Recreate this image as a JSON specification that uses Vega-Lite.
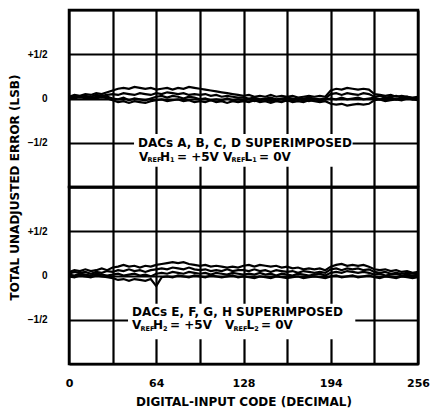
{
  "$schema": "https://vega.github.io/schema/vega-lite/v6.json",
  "padding": {"left": 7, "top": 8, "right": 2, "bottom": 2},
  "background": "white",
  "bounds": "flush",
  "spacing": 0,
  "config": {
    "view": {"stroke": "#000", "strokeWidth": 2.5},
    "axis": {"grid": true, "gridColor": "#000", "gridWidth": 2.2, "gridOpacity": 1, "domain": false, "ticks": false,
      "labelFont": "DejaVu Sans", "labelFontWeight": "bold", "labelColor": "#000", "labelFontSize": 11,
      "titleFont": "DejaVu Sans", "titleFontWeight": "bold", "titleFontSize": 12, "titleColor": "#000"},
    "axisY": {"labelFont": "Liberation Sans", "labelFontSize": 10}
  },
  "datasets": {
    "box": [
      {"p": "T", "x": 47.7, "x2": 208, "y": -0.40, "y2": -0.77},
      {"p": "B", "x": 43.3, "x2": 210, "y": -0.32, "y2": -0.72}
    ],
    "ann": [
      {"p": "T", "k": "m", "x": 50.6, "y": -0.5, "t": "DACs A, B, C, D SUPERIMPOSED"},
      {"p": "T", "k": "m", "x": 51.3, "y": -0.66, "t": "V"},
      {"p": "T", "k": "s", "x": 57.6, "y": -0.70, "t": "REF"},
      {"p": "T", "k": "m", "x": 66.8, "y": -0.66, "t": "H"},
      {"p": "T", "k": "s", "x": 74.1, "y": -0.70, "t": "1"},
      {"p": "T", "k": "m", "x": 79.2, "y": -0.66, "t": "= +5V"},
      {"p": "T", "k": "m", "x": 113.0, "y": -0.66, "t": "V"},
      {"p": "T", "k": "s", "x": 119.2, "y": -0.70, "t": "REF"},
      {"p": "T", "k": "m", "x": 128.7, "y": -0.66, "t": "L"},
      {"p": "T", "k": "s", "x": 134.5, "y": -0.70, "t": "1"},
      {"p": "T", "k": "m", "x": 139.4, "y": -0.66, "t": "= 0V"},
      {"p": "B", "k": "m", "x": 46.2, "y": -0.41, "t": "DACs E, F, G, H SUPERIMPOSED"},
      {"p": "B", "k": "m", "x": 46.2, "y": -0.56, "t": "V"},
      {"p": "B", "k": "s", "x": 52.4, "y": -0.60, "t": "REF"},
      {"p": "B", "k": "m", "x": 61.6, "y": -0.56, "t": "H"},
      {"p": "B", "k": "s", "x": 68.9, "y": -0.60, "t": "2"},
      {"p": "B", "k": "m", "x": 74.1, "y": -0.56, "t": "= +5V"},
      {"p": "B", "k": "m", "x": 114.4, "y": -0.56, "t": "V"},
      {"p": "B", "k": "s", "x": 120.7, "y": -0.60, "t": "REF"},
      {"p": "B", "k": "m", "x": 130.2, "y": -0.56, "t": "L"},
      {"p": "B", "k": "s", "x": 135.9, "y": -0.60, "t": "2"},
      {"p": "B", "k": "m", "x": 140.8, "y": -0.56, "t": "= 0V"}
    ],
    "top": [
      {"x": 0, "A": 0.02, "B": 0.01, "C": 0.00, "D": 0.01},
      {"x": 4, "A": 0.04, "B": 0.03, "C": 0.02, "D": 0.00},
      {"x": 8, "A": 0.03, "B": 0.02, "C": 0.01, "D": 0.02},
      {"x": 12, "A": 0.05, "B": 0.03, "C": 0.02, "D": 0.00},
      {"x": 16, "A": 0.04, "B": 0.02, "C": 0.00, "D": 0.01},
      {"x": 20, "A": 0.06, "B": 0.04, "C": 0.02, "D": 0.00},
      {"x": 24, "A": 0.05, "B": 0.03, "C": 0.01, "D": 0.02},
      {"x": 28, "A": 0.07, "B": 0.04, "C": 0.02, "D": 0.00},
      {"x": 32, "A": 0.09, "B": 0.05, "C": 0.00, "D": -0.02},
      {"x": 36, "A": 0.11, "B": 0.04, "C": -0.01, "D": -0.04},
      {"x": 40, "A": 0.12, "B": 0.06, "C": 0.01, "D": -0.03},
      {"x": 44, "A": 0.11, "B": 0.05, "C": -0.02, "D": -0.05},
      {"x": 48, "A": 0.13, "B": 0.04, "C": 0.00, "D": -0.03},
      {"x": 52, "A": 0.12, "B": 0.06, "C": -0.01, "D": -0.04},
      {"x": 56, "A": 0.11, "B": 0.05, "C": -0.02, "D": -0.05},
      {"x": 60, "A": 0.12, "B": 0.04, "C": 0.00, "D": -0.03},
      {"x": 64, "A": 0.10, "B": 0.06, "C": 0.02, "D": -0.02},
      {"x": 68, "A": 0.11, "B": 0.05, "C": 0.03, "D": -0.01},
      {"x": 72, "A": 0.12, "B": 0.07, "C": 0.01, "D": -0.03},
      {"x": 76, "A": 0.10, "B": 0.06, "C": 0.03, "D": -0.02},
      {"x": 80, "A": 0.12, "B": 0.05, "C": 0.02, "D": -0.01},
      {"x": 84, "A": 0.11, "B": 0.06, "C": 0.00, "D": -0.03},
      {"x": 88, "A": 0.13, "B": 0.04, "C": 0.02, "D": -0.02},
      {"x": 92, "A": 0.12, "B": 0.05, "C": 0.01, "D": -0.04},
      {"x": 96, "A": 0.11, "B": 0.04, "C": -0.01, "D": -0.03},
      {"x": 100, "A": 0.10, "B": 0.05, "C": 0.00, "D": -0.04},
      {"x": 104, "A": 0.09, "B": 0.03, "C": -0.02, "D": -0.02},
      {"x": 108, "A": 0.08, "B": 0.04, "C": -0.01, "D": -0.04},
      {"x": 112, "A": 0.07, "B": 0.02, "C": -0.02, "D": -0.03},
      {"x": 116, "A": 0.06, "B": 0.03, "C": 0.00, "D": -0.05},
      {"x": 120, "A": 0.05, "B": 0.02, "C": -0.02, "D": -0.03},
      {"x": 124, "A": 0.04, "B": 0.01, "C": -0.01, "D": -0.04},
      {"x": 128, "A": 0.03, "B": 0.01, "C": -0.02, "D": -0.03},
      {"x": 132, "A": 0.04, "B": 0.00, "C": -0.01, "D": -0.04},
      {"x": 136, "A": 0.02, "B": 0.01, "C": -0.03, "D": -0.02},
      {"x": 140, "A": 0.03, "B": -0.01, "C": -0.02, "D": -0.04},
      {"x": 144, "A": 0.02, "B": 0.00, "C": -0.01, "D": -0.03},
      {"x": 148, "A": 0.04, "B": 0.01, "C": -0.03, "D": -0.05},
      {"x": 152, "A": 0.02, "B": -0.01, "C": -0.02, "D": -0.03},
      {"x": 156, "A": 0.03, "B": 0.00, "C": -0.01, "D": -0.04},
      {"x": 160, "A": 0.02, "B": 0.01, "C": -0.03, "D": -0.02},
      {"x": 164, "A": 0.03, "B": 0.00, "C": -0.02, "D": -0.04},
      {"x": 168, "A": 0.01, "B": -0.01, "C": -0.01, "D": -0.03},
      {"x": 172, "A": 0.02, "B": 0.00, "C": -0.02, "D": -0.04},
      {"x": 176, "A": 0.03, "B": 0.01, "C": -0.03, "D": -0.02},
      {"x": 180, "A": 0.02, "B": 0.00, "C": -0.01, "D": -0.03},
      {"x": 184, "A": 0.03, "B": -0.01, "C": -0.02, "D": -0.04},
      {"x": 188, "A": 0.02, "B": 0.00, "C": -0.01, "D": -0.03},
      {"x": 192, "A": 0.09, "B": 0.05, "C": 0.00, "D": -0.06},
      {"x": 196, "A": 0.11, "B": 0.06, "C": -0.01, "D": -0.07},
      {"x": 200, "A": 0.10, "B": 0.04, "C": 0.01, "D": -0.06},
      {"x": 204, "A": 0.12, "B": 0.06, "C": -0.01, "D": -0.08},
      {"x": 208, "A": 0.11, "B": 0.05, "C": 0.00, "D": -0.07},
      {"x": 212, "A": 0.10, "B": 0.04, "C": 0.01, "D": -0.06},
      {"x": 216, "A": 0.11, "B": 0.06, "C": -0.01, "D": -0.07},
      {"x": 220, "A": 0.10, "B": 0.05, "C": 0.00, "D": -0.06},
      {"x": 224, "A": 0.05, "B": 0.02, "C": 0.01, "D": -0.02},
      {"x": 228, "A": 0.04, "B": 0.03, "C": -0.01, "D": -0.01},
      {"x": 232, "A": 0.03, "B": 0.01, "C": 0.00, "D": -0.03},
      {"x": 236, "A": 0.04, "B": 0.02, "C": 0.01, "D": -0.02},
      {"x": 240, "A": 0.02, "B": 0.03, "C": -0.01, "D": -0.01},
      {"x": 244, "A": 0.03, "B": 0.01, "C": 0.00, "D": -0.02},
      {"x": 248, "A": 0.02, "B": 0.02, "C": 0.01, "D": 0.00},
      {"x": 252, "A": 0.01, "B": 0.00, "C": -0.01, "D": -0.01},
      {"x": 256, "A": 0.02, "B": 0.01, "C": 0.00, "D": -0.02}
    ],
    "bot": [
      {"x": 0, "E": 0.04, "F": 0.02, "G": 0.01, "H": -0.01},
      {"x": 4, "E": 0.06, "F": 0.04, "G": 0.00, "H": -0.02},
      {"x": 8, "E": 0.05, "F": 0.03, "G": 0.02, "H": 0.00},
      {"x": 12, "E": 0.07, "F": 0.04, "G": 0.01, "H": -0.01},
      {"x": 16, "E": 0.05, "F": 0.02, "G": 0.00, "H": -0.02},
      {"x": 20, "E": 0.06, "F": 0.04, "G": 0.02, "H": 0.00},
      {"x": 24, "E": 0.08, "F": 0.03, "G": 0.01, "H": -0.01},
      {"x": 28, "E": 0.06, "F": 0.05, "G": 0.00, "H": -0.02},
      {"x": 32, "E": 0.09, "F": 0.04, "G": 0.01, "H": -0.03},
      {"x": 36, "E": 0.10, "F": 0.06, "G": 0.02, "H": -0.05},
      {"x": 40, "E": 0.12, "F": 0.05, "G": 0.00, "H": -0.04},
      {"x": 44, "E": 0.10, "F": 0.07, "G": 0.01, "H": -0.06},
      {"x": 48, "E": 0.11, "F": 0.05, "G": 0.02, "H": -0.04},
      {"x": 52, "E": 0.09, "F": 0.06, "G": 0.00, "H": -0.05},
      {"x": 56, "E": 0.11, "F": 0.04, "G": 0.01, "H": -0.06},
      {"x": 60, "E": 0.10, "F": 0.06, "G": -0.01, "H": -0.04},
      {"x": 64, "E": 0.12, "F": 0.07, "G": 0.02, "H": -0.12},
      {"x": 68, "E": 0.13, "F": 0.08, "G": 0.03, "H": -0.02},
      {"x": 72, "E": 0.14, "F": 0.07, "G": 0.02, "H": -0.01},
      {"x": 76, "E": 0.15, "F": 0.09, "G": 0.04, "H": -0.02},
      {"x": 80, "E": 0.14, "F": 0.08, "G": 0.03, "H": 0.00},
      {"x": 84, "E": 0.15, "F": 0.07, "G": 0.02, "H": -0.01},
      {"x": 88, "E": 0.13, "F": 0.09, "G": 0.04, "H": -0.02},
      {"x": 92, "E": 0.12, "F": 0.07, "G": 0.03, "H": 0.00},
      {"x": 96, "E": 0.11, "F": 0.06, "G": 0.02, "H": -0.01},
      {"x": 100, "E": 0.12, "F": 0.07, "G": 0.03, "H": -0.02},
      {"x": 104, "E": 0.10, "F": 0.05, "G": 0.01, "H": 0.00},
      {"x": 108, "E": 0.11, "F": 0.06, "G": 0.03, "H": -0.01},
      {"x": 112, "E": 0.10, "F": 0.05, "G": 0.02, "H": -0.02},
      {"x": 116, "E": 0.09, "F": 0.07, "G": 0.01, "H": -0.01},
      {"x": 120, "E": 0.10, "F": 0.05, "G": 0.03, "H": 0.00},
      {"x": 124, "E": 0.09, "F": 0.06, "G": 0.02, "H": -0.02},
      {"x": 128, "E": 0.11, "F": 0.06, "G": 0.01, "H": -0.01},
      {"x": 132, "E": 0.12, "F": 0.05, "G": 0.02, "H": -0.02},
      {"x": 136, "E": 0.10, "F": 0.07, "G": 0.01, "H": -0.03},
      {"x": 140, "E": 0.12, "F": 0.05, "G": 0.03, "H": -0.01},
      {"x": 144, "E": 0.11, "F": 0.06, "G": 0.01, "H": -0.02},
      {"x": 148, "E": 0.10, "F": 0.04, "G": 0.02, "H": -0.03},
      {"x": 152, "E": 0.11, "F": 0.06, "G": 0.00, "H": -0.01},
      {"x": 156, "E": 0.09, "F": 0.05, "G": 0.02, "H": -0.02},
      {"x": 160, "E": 0.10, "F": 0.04, "G": 0.01, "H": -0.03},
      {"x": 164, "E": 0.08, "F": 0.05, "G": 0.00, "H": -0.02},
      {"x": 168, "E": 0.09, "F": 0.03, "G": 0.02, "H": -0.01},
      {"x": 172, "E": 0.07, "F": 0.05, "G": 0.01, "H": -0.03},
      {"x": 176, "E": 0.08, "F": 0.04, "G": 0.00, "H": -0.02},
      {"x": 180, "E": 0.07, "F": 0.03, "G": 0.01, "H": -0.01},
      {"x": 184, "E": 0.08, "F": 0.04, "G": 0.02, "H": -0.02},
      {"x": 188, "E": 0.06, "F": 0.03, "G": 0.00, "H": -0.03},
      {"x": 192, "E": 0.10, "F": 0.07, "G": 0.03, "H": -0.01},
      {"x": 196, "E": 0.12, "F": 0.08, "G": 0.04, "H": 0.00},
      {"x": 200, "E": 0.13, "F": 0.06, "G": 0.03, "H": -0.02},
      {"x": 204, "E": 0.11, "F": 0.08, "G": 0.05, "H": -0.01},
      {"x": 208, "E": 0.12, "F": 0.07, "G": 0.04, "H": 0.00},
      {"x": 212, "E": 0.11, "F": 0.08, "G": 0.03, "H": -0.02},
      {"x": 216, "E": 0.12, "F": 0.06, "G": 0.04, "H": -0.01},
      {"x": 220, "E": 0.10, "F": 0.07, "G": 0.03, "H": 0.00},
      {"x": 224, "E": 0.07, "F": 0.04, "G": 0.01, "H": -0.02},
      {"x": 228, "E": 0.06, "F": 0.03, "G": 0.02, "H": -0.03},
      {"x": 232, "E": 0.07, "F": 0.04, "G": 0.00, "H": -0.01},
      {"x": 236, "E": 0.05, "F": 0.02, "G": 0.01, "H": -0.02},
      {"x": 240, "E": 0.06, "F": 0.03, "G": 0.02, "H": -0.03},
      {"x": 244, "E": 0.04, "F": 0.02, "G": 0.00, "H": -0.01},
      {"x": 248, "E": 0.05, "F": 0.03, "G": 0.01, "H": -0.02},
      {"x": 252, "E": 0.03, "F": 0.02, "G": 0.00, "H": -0.03},
      {"x": 256, "E": 0.04, "F": 0.02, "G": 0.01, "H": -0.02}
    ]
  },
  "vconcat": [
    {
      "width": 349,
      "height": 177,
      "encoding": {
        "x": {"field": "x", "type": "quantitative", "scale": {"domain": [0, 256], "nice": false, "zero": false},
          "axis": {"values": [0, 32, 64, 96, 128, 160, 192, 224, 256], "labels": false, "title": null}},
        "y": {"field": "y", "type": "quantitative", "scale": {"domain": [-1, 1], "nice": false},
          "axis": {"values": [-1, -0.5, 0, 0.5, 1], "labelExpr": "datum.value == 0.5 ? '+1/2' : datum.value == 0 ? '0' : datum.value == -0.5 ? '−1/2' : ''",
            "labelPadding": 22, "labelFlush": false, "title": "TOTAL UNADJUSTED ERROR (LSB)", "titleY": 177, "titlePadding": 6}}
      },
      "layer": [
        {"data": {"name": "box"}, "transform": [{"filter": "datum.p == 'T'"}], "mark": {"type": "rect", "fill": "white"},
          "encoding": {"x2": {"field": "x2"}, "y2": {"field": "y2"}}},
        {"data": {"name": "top"}, "transform": [{"fold": ["A", "B", "C", "D"], "as": ["dac", "y"]}],
          "mark": {"type": "line", "color": "#000", "strokeWidth": 2.2},
          "encoding": {"detail": {"field": "dac", "type": "nominal"}}},
        {"data": {"name": "ann"}, "transform": [{"filter": "datum.p == 'T' && datum.k == 'm'"}],
          "mark": {"type": "text", "align": "left", "baseline": "middle", "font": "DejaVu Sans", "fontWeight": "bold", "fontSize": 12, "fill": "#000"},
          "encoding": {"text": {"field": "t"}}},
        {"data": {"name": "ann"}, "transform": [{"filter": "datum.p == 'T' && datum.k == 's'"}],
          "mark": {"type": "text", "align": "left", "baseline": "middle", "font": "DejaVu Sans", "fontWeight": "bold", "fontSize": 6.5, "fill": "#000"},
          "encoding": {"text": {"field": "t"}}}
      ]
    },
    {
      "width": 349,
      "height": 177,
      "encoding": {
        "x": {"field": "x", "type": "quantitative", "scale": {"domain": [0, 256], "nice": false, "zero": false},
          "axis": {"values": [0, 32, 64, 96, 128, 160, 192, 224, 256], "labelExpr": "datum.value == 192 ? '194' : (datum.value % 64 == 0 ? datum.label : '')",
            "labelFlush": false, "labelPadding": 13, "title": "DIGITAL-INPUT CODE (DECIMAL)", "titlePadding": 8}},
        "y": {"field": "y", "type": "quantitative", "scale": {"domain": [-1, 1], "nice": false},
          "axis": {"values": [-1, -0.5, 0, 0.5, 1], "labelExpr": "datum.value == 0.5 ? '+1/2' : datum.value == 0 ? '0' : datum.value == -0.5 ? '−1/2' : ''",
            "labelPadding": 22, "labelFlush": false, "title": null}}
      },
      "layer": [
        {"data": {"name": "box"}, "transform": [{"filter": "datum.p == 'B'"}], "mark": {"type": "rect", "fill": "white"},
          "encoding": {"x2": {"field": "x2"}, "y2": {"field": "y2"}}},
        {"data": {"name": "bot"}, "transform": [{"fold": ["E", "F", "G", "H"], "as": ["dac", "y"]}],
          "mark": {"type": "line", "color": "#000", "strokeWidth": 2.2},
          "encoding": {"detail": {"field": "dac", "type": "nominal"}}},
        {"data": {"name": "ann"}, "transform": [{"filter": "datum.p == 'B' && datum.k == 'm'"}],
          "mark": {"type": "text", "align": "left", "baseline": "middle", "font": "DejaVu Sans", "fontWeight": "bold", "fontSize": 12, "fill": "#000"},
          "encoding": {"text": {"field": "t"}}},
        {"data": {"name": "ann"}, "transform": [{"filter": "datum.p == 'B' && datum.k == 's'"}],
          "mark": {"type": "text", "align": "left", "baseline": "middle", "font": "DejaVu Sans", "fontWeight": "bold", "fontSize": 6.5, "fill": "#000"},
          "encoding": {"text": {"field": "t"}}}
      ]
    }
  ]
}
